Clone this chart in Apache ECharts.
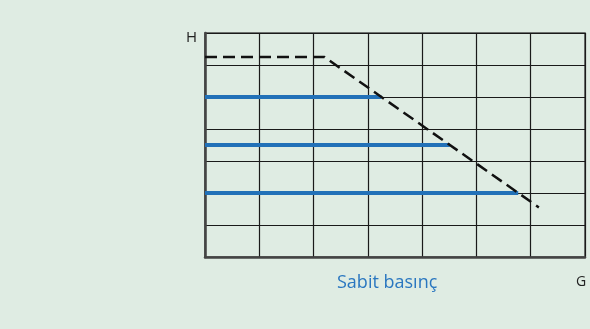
<!DOCTYPE html>
<html>
<head>
<meta charset="utf-8">
<script src="https://cdn.jsdelivr.net/npm/echarts@6/dist/echarts.min.js"></script>
<style>
    html, body { margin: 0; padding: 0; background: #dfece3; }
    #chart { width: 590px; height: 329px; }
</style>
</head>
<body>
<div id="chart"></div>
<script>
// grid runs 0..7 on both axes (7x7 cells, no tick labels)
const axisMin = 0
const axisMax = 7
const gridStep = 1

// dashed limit curve (G, H)
const limitCurve = [[0, 6.25], [2.2, 6.25], [6.15, 1.55]]

// constant pressure lines: level H and the G where each one meets the curve
const pressureLevels = [5, 3.5, 2]
const pressureEnds = [3.25, 4.51, 5.77]

const yName = 'H'
const xName = 'G'
const caption = 'Sabit basınç'

const blue = '#2271b8'
const chart = echarts.init(document.getElementById('chart'), null, { renderer: 'canvas' })

const pressureSeries = pressureLevels.map((h, i) => ({
    type: 'line',
    data: [[axisMin, h], [pressureEnds[i], h]],
    symbol: 'none',
    lineStyle: { color: blue, width: 4 },
    z: 3,
    animation: false
}))

chart.setOption({
    backgroundColor: '#dfece3',
    grid: { left: 205, right: 5, top: 33, bottom: 72, show: true, borderColor: '#4a4a4a', borderWidth: 1.5 },
    xAxis: {
        type: 'value',
        min: axisMin,
        max: axisMax,
        interval: gridStep,
        axisLine: { show: true, lineStyle: { color: '#444', width: 2.5 } },
        axisTick: { show: false },
        axisLabel: { show: false },
        splitLine: { show: true, lineStyle: { color: '#1a1a1a', width: 1.2 } }
    },
    yAxis: {
        type: 'value',
        min: axisMin,
        max: axisMax,
        interval: gridStep,
        axisLine: { show: true, lineStyle: { color: '#444', width: 2.5 } },
        axisTick: { show: false },
        axisLabel: { show: false },
        splitLine: { show: true, lineStyle: { color: '#1a1a1a', width: 1.2 } }
    },
    graphic: [
        { type: 'text', left: 186, top: 30, style: { text: yName, font: '15px "Open Sans"', fill: '#222' } },
        { type: 'text', left: 576, top: 275, style: { text: xName, font: '14px "Open Sans"', fill: '#222' } },
        { type: 'text', left: 337, top: 274, style: { text: caption, font: '18px "Open Sans"', fill: '#2a77c0' } }
    ],
    series: [
        ...pressureSeries,
        {
            type: 'line',
            data: limitCurve,
            symbol: 'none',
            lineStyle: { color: '#111', width: 2.5, type: [12, 6] },
            z: 4,
            animation: false
        }
    ]
})
</script>
</body>
</html>
